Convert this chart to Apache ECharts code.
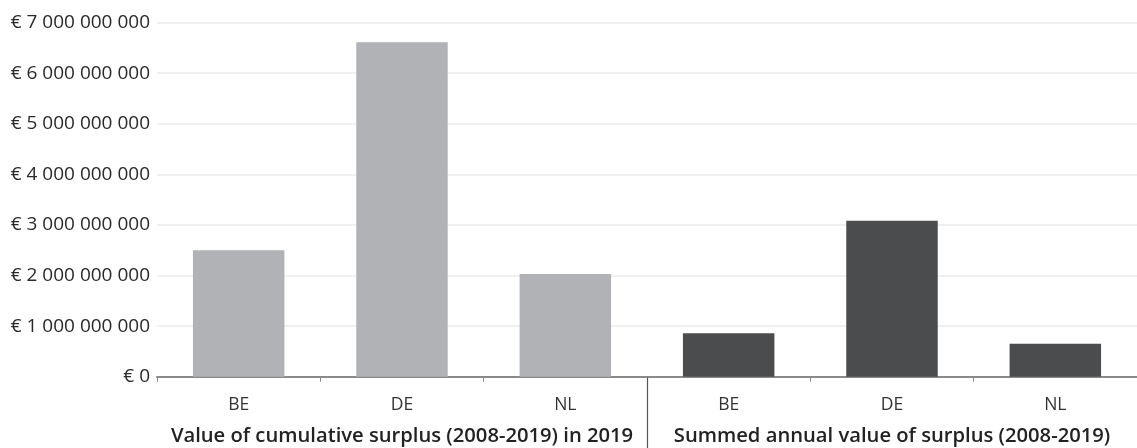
<!DOCTYPE html>
<html>
<head>
<meta charset="utf-8">
<script src="https://cdn.jsdelivr.net/npm/echarts@6/dist/echarts.min.js"></script>
<style>
html,body{margin:0;padding:0;background:#fff;}
#chart{width:1137px;height:448px;}
</style>
</head>
<body>
<div id="chart"></div>
<script>
const countries = ['BE', 'DE', 'NL'];
const groupLabels = ['Value of cumulative surplus (2008-2019) in 2019', 'Summed annual value of surplus (2008-2019)'];
const cumulativeValues = [2500000000, 6610000000, 2030000000];
const annualValues = [860000000, 3080000000, 650000000];
const yTicks = { min: 0, max: 7000000000, interval: 1000000000 };

const categories = countries.concat(countries).map((c, i) => ({ value: c + '_' + i, label: c }));
const catNames = categories.map(c => c.value);
const catLabelMap = {};
categories.forEach(c => { catLabelMap[c.value] = c.label; });

const s1 = cumulativeValues.concat(countries.map(() => '-'));
const s2 = countries.map(() => '-').concat(annualValues);

function fmtEuro(v) {
  return '€ ' + String(Math.round(v)).replace(/\B(?=(\d{3})+(?!\d))/g, ' ');
}

const FONT = '"Open Sans", "Noto Sans", sans-serif';
const chart = echarts.init(document.getElementById('chart'), null, { renderer: 'canvas' });
chart.setOption({
  animation: false,
  grid: { left: 157, right: 0, top: 22.5, bottom: 71.3, containLabel: false },
  xAxis: [
    {
      type: 'category',
      data: catNames,
      position: 'bottom',
      axisLine: { lineStyle: { color: '#8a8a8a', width: 2 } },
      axisTick: { show: true, length: 5, lineStyle: { color: '#8a8a8a', width: 1 } },
      axisLabel: { interval: 0, color: '#333', fontSize: 17.5, fontFamily: FONT, margin: 19, formatter: v => catLabelMap[v] },
      splitLine: { show: false }
    },
    {
      type: 'category',
      data: groupLabels,
      position: 'bottom',
      axisLine: { show: false },
      axisTick: { show: false },
      axisLabel: { interval: 0, color: '#222', fontSize: 20.2, fontWeight: 600, fontFamily: FONT, margin: 50 },
      splitLine: { show: false }
    }
  ],
  yAxis: {
    type: 'value',
    min: yTicks.min,
    max: yTicks.max,
    interval: yTicks.interval,
    axisLine: { show: false },
    axisTick: { show: false },
    axisLabel: { color: '#2a2a2a', fontSize: 19, fontFamily: FONT, margin: 7, formatter: fmtEuro },
    splitLine: { lineStyle: { color: '#ebebeb', width: 1.5 } }
  },
  series: [
    {
      name: groupLabels[0], type: 'bar', data: s1, barWidth: '56%', barGap: '-100%',
      itemStyle: { color: '#b1b2b5' }
    },
    {
      name: groupLabels[1], type: 'bar', data: s2, barWidth: '56%', barGap: '-100%',
      itemStyle: { color: '#4b4c4e' }
    }
  ]
});

// group separator between the two groups, computed from the axis scale
const xa = chart.convertToPixel({ xAxisIndex: 0 }, catNames[countries.length - 1]);
const xb = chart.convertToPixel({ xAxisIndex: 0 }, catNames[countries.length]);
const sepX = Math.round((xa + xb) / 2) + 0.5;
const y0 = chart.convertToPixel({ yAxisIndex: 0 }, 0);
chart.setOption({
  graphic: [{
    type: 'line',
    shape: { x1: sepX, y1: y0 + 1, x2: sepX, y2: 448 },
    style: { stroke: '#555', lineWidth: 1.2 },
    z: 10
  }]
});
</script>
</body>
</html>
